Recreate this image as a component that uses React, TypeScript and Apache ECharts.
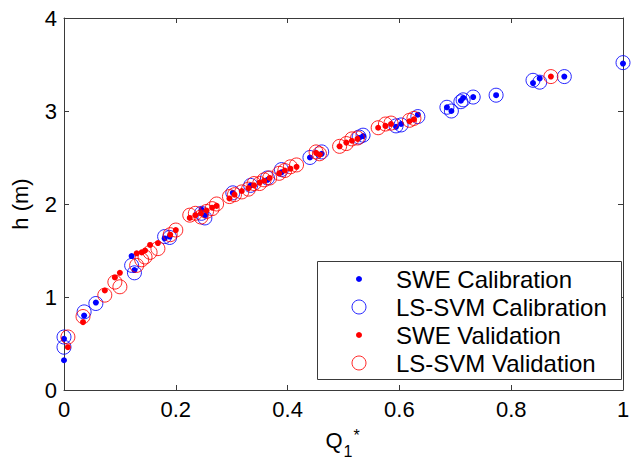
import React, { useEffect, useRef } from "react";
import * as echarts from "echarts";

const calQ = [0, 0, 0.036, 0.057, 0.121, 0.126, 0.18, 0.189, 0.246, 0.252, 0.302, 0.334, 0.364, 0.389, 0.44, 0.461, 0.528, 0.535, 0.594, 0.603, 0.633, 0.685, 0.693, 0.71, 0.714, 0.732, 0.773, 0.839, 0.851, 0.895, 1.0];
const calSWE = [0.32, 0.55, 0.80, 0.94, 1.44, 1.29, 1.63, 1.65, 1.94, 1.88, 2.12, 2.20, 2.26, 2.34, 2.50, 2.54, 2.71, 2.73, 2.83, 2.86, 2.96, 3.04, 3.00, 3.11, 3.14, 3.15, 3.17, 3.30, 3.35, 3.37, 3.51];
const calLSSVM = [0.46, 0.57, 0.84, 0.93, 1.34, 1.26, 1.65, 1.64, 1.90, 1.85, 2.12, 2.20, 2.28, 2.37, 2.50, 2.56, 2.72, 2.74, 2.84, 2.85, 2.94, 3.04, 3.00, 3.10, 3.12, 3.15, 3.17, 3.33, 3.31, 3.37, 3.52];

const valQ = [0.007, 0.034, 0.073, 0.091, 0.100, 0.13, 0.139, 0.145, 0.154, 0.168, 0.19, 0.2, 0.225, 0.235, 0.245, 0.255, 0.265, 0.273, 0.296, 0.305, 0.318, 0.33, 0.34, 0.35, 0.358, 0.368, 0.385, 0.395, 0.405, 0.416, 0.451, 0.457, 0.493, 0.505, 0.515, 0.525, 0.562, 0.575, 0.585, 0.618, 0.626, 0.871];
const valSWE = [0.46, 0.73, 1.07, 1.21, 1.26, 1.47, 1.48, 1.50, 1.56, 1.58, 1.67, 1.72, 1.85, 1.88, 1.90, 1.93, 1.96, 1.98, 2.06, 2.10, 2.14, 2.17, 2.20, 2.23, 2.25, 2.28, 2.33, 2.36, 2.38, 2.40, 2.55, 2.53, 2.62, 2.66, 2.68, 2.70, 2.82, 2.84, 2.86, 2.89, 2.91, 3.37];
const valLSSVM = [0.57, 0.79, 1.02, 1.16, 1.11, 1.34, 1.40, 1.43, 1.48, 1.52, 1.67, 1.72, 1.88, 1.90, 1.86, 1.92, 1.95, 2.00, 2.08, 2.10, 2.13, 2.16, 2.22, 2.22, 2.26, 2.28, 2.33, 2.36, 2.40, 2.42, 2.56, 2.54, 2.62, 2.65, 2.70, 2.71, 2.82, 2.86, 2.87, 2.90, 2.92, 3.37];

const seriesNames = ["SWE Calibration", "LS-SVM Calibration", "SWE Validation", "LS-SVM Validation"];
const xLabel = { main: "Q", sub: "1", sup: "*" };
const yLabel = "h (m)";

const FONT = "'Liberation Sans', Arial, Helvetica, sans-serif";
const TEXT = "#000000";
const LINE = "#3a3a3a";
const BLUE = "#0000ff";
const RED = "#ff0000";

export default function App() {
  const ref = useRef<HTMLDivElement>(null);
  useEffect(() => {
    if (!ref.current) return;
    const chart = echarts.init(ref.current, null, { renderer: "svg" });
    const pair = (xs: number[], ys: number[]) => xs.map((x, i) => [x, ys[i]]);
    const axisBase = {
      type: "value" as const,
      axisLine: { show: true, onZero: false, lineStyle: { color: LINE, width: 1 } },
      axisTick: { show: true, inside: true, length: 5, lineStyle: { color: LINE, width: 1 } },
      splitLine: { show: false },
    };
    const dot = (name: string, data: number[][], color: string) => ({
      name,
      type: "scatter",
      data,
      symbol: "circle",
      symbolSize: 6,
      clip: false,
      itemStyle: { color, opacity: 1 },
      emphasis: { disabled: true },
    });
    const ring = (name: string, data: number[][], color: string) => ({
      name,
      type: "scatter",
      data,
      symbol: "circle",
      symbolSize: 14,
      clip: false,
      itemStyle: { color: "rgba(0,0,0,0)", borderColor: color, borderWidth: 1, opacity: 0.85 },
      emphasis: { disabled: true },
    });
    const legendRows = [
      { y: 279, kind: "dot", color: BLUE },
      { y: 307, kind: "ring", color: BLUE },
      { y: 335, kind: "dot", color: RED },
      { y: 363, kind: "ring", color: RED },
    ];
    const legendGraphics: any[] = [
      {
        type: "rect",
        shape: { x: 317.5, y: 261.5, width: 304, height: 118 },
        style: { fill: "#ffffff", stroke: LINE, lineWidth: 1 },
        z: 100,
      },
    ];
    legendRows.forEach((r, i) => {
      legendGraphics.push(
        r.kind === "dot"
          ? { type: "circle", shape: { cx: 359, cy: r.y, r: 3 }, style: { fill: r.color }, z: 101 }
          : { type: "circle", shape: { cx: 359, cy: r.y, r: 7 }, style: { fill: "none", stroke: r.color, lineWidth: 1, opacity: 0.85 }, z: 101 }
      );
      legendGraphics.push({
        type: "text",
        x: 396,
        y: r.y,
        style: { text: seriesNames[i], font: `24px ${FONT}`, fill: TEXT, verticalAlign: "middle", align: "left" },
        z: 101,
      });
    });
    const option: any = {
      animation: false,
      backgroundColor: "#ffffff",
      textStyle: { fontFamily: FONT },
      grid: { left: 64, right: 17, top: 18, bottom: 74, containLabel: false },
      xAxis: [
        {
          ...axisBase,
          position: "bottom",
          min: 0,
          max: 1,
          interval: 0.2,
          axisLabel: { show: true, color: TEXT, fontSize: 22, margin: 8, fontFamily: FONT },
        },
        {
          ...axisBase,
          position: "top",
          min: 0,
          max: 1,
          interval: 0.2,
          axisLabel: { show: false },
        },
      ],
      yAxis: [
        {
          ...axisBase,
          position: "left",
          min: 0,
          max: 4,
          interval: 1,
          name: yLabel,
          nameLocation: "middle",
          nameGap: 33,
          nameTextStyle: { color: TEXT, fontSize: 22, fontFamily: FONT },
          axisLabel: { show: true, color: TEXT, fontSize: 22, margin: 7, fontFamily: FONT },
        },
        {
          ...axisBase,
          position: "right",
          min: 0,
          max: 4,
          interval: 1,
          axisLabel: { show: false },
        },
      ],
      series: [
        dot(seriesNames[0], pair(calQ, calSWE), BLUE),
        ring(seriesNames[1], pair(calQ, calLSSVM), BLUE),
        dot(seriesNames[2], pair(valQ, valSWE), RED),
        ring(seriesNames[3], pair(valQ, valLSSVM), RED),
      ],
      graphic: [
        ...legendGraphics,
        {
          type: "text",
          x: 334,
          y: 440,
          style: { text: xLabel.main, font: `22px ${FONT}`, fill: TEXT, align: "center", verticalAlign: "middle" },
        },
        {
          type: "text",
          x: 348,
          y: 451,
          style: { text: xLabel.sub, font: `16px ${FONT}`, fill: TEXT, align: "center", verticalAlign: "middle" },
        },
        {
          type: "text",
          x: 356.5,
          y: 435,
          style: { text: xLabel.sup, font: `16px ${FONT}`, fill: TEXT, align: "center", verticalAlign: "middle" },
        },
      ],
    };
    chart.setOption(option);
    return () => chart.dispose();
  }, []);
  return (
    <div
      ref={ref}
      style={{ position: "fixed", left: 0, top: 0, width: 640, height: 464, background: "#fff" }}
    />
  );
}
